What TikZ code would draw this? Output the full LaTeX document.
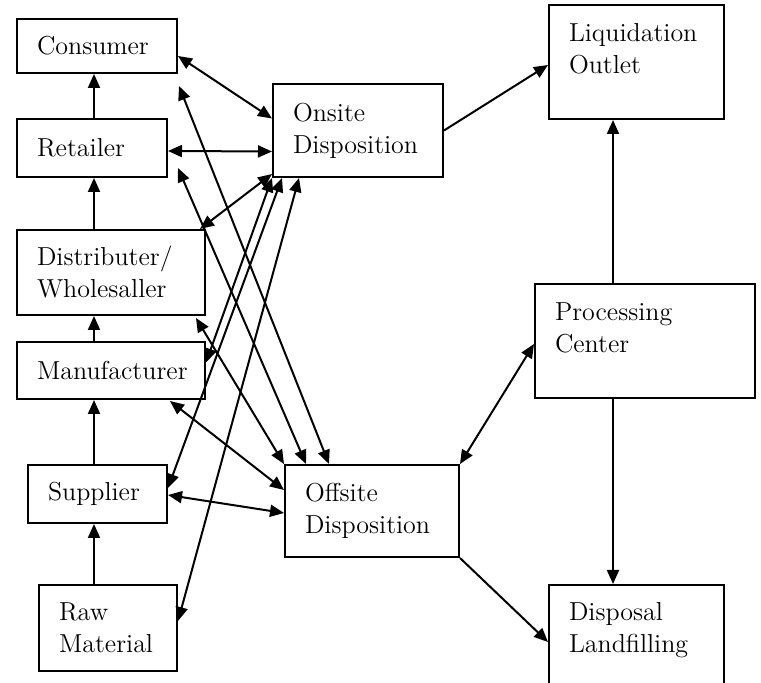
\documentclass[tikz,border=0pt]{standalone}
\usetikzlibrary{arrows.meta,calc}

\begin{document}
\begin{tikzpicture}[x=0.5pt,y=-0.5pt,
  box/.style={draw,line width=1pt,anchor=north west,align=left,inner xsep=10pt,
    font=\fontsize{13}{16}\selectfont},
  oneway/.style={line width=1pt,-{Triangle[length=7pt,width=6pt]}},
  twoway/.style={line width=1pt,{Triangle[length=7pt,width=6pt]}-{Triangle[length=7pt,width=6pt]}}]
\useasboundingbox (0,0) rectangle (761,683);

\node[box,text width=60pt,minimum height=27pt] (cons) at (16,18) {Consumer};
\node[box,text width=55pt,minimum height=29pt] (ret) at (16,118) {Retailer};
\node[box,text width=74pt,minimum height=42.5pt] (dist) at (16,229) {Distributer/\\Wholesaller};
\node[box,text width=74pt,minimum height=28.5pt] (manu) at (16,341) {Manufacturer};
\node[box,text width=49.5pt,minimum height=29pt] (sup) at (27,464) {Supplier};
\node[box,text width=49pt,minimum height=43pt] (raw) at (38,584) {Raw\\Material};

\node[box,text width=65pt,minimum height=46.5pt] (onsite) at (272,83) {Onsite\\Disposition};
\node[box,text width=67pt,minimum height=46pt] (offsite) at (284,464) {Offsite\\Disposition};

\node[box,text width=67.5pt,minimum height=57pt,text depth=30pt] (liq) at (548,4) {Liquidation\\Outlet};
\node[box,text width=90pt,minimum height=57pt,text depth=29pt] (proc) at (534,283) {Processing\\Center};
\node[box,text width=67.5pt,minimum height=52pt,text depth=26pt] (disp) at (548,584) {Disposal\\Landfilling};

\coordinate (spine) at (94,0);
\coordinate (trunk) at (613,0);

\draw[oneway] (ret.north -| spine) -- (cons.south -| spine);
\draw[oneway] (dist.north -| spine) -- (ret.south -| spine);
\draw[oneway] (manu.north -| spine) -- (dist.south -| spine);
\draw[oneway] (sup.north -| spine) -- (manu.south -| spine);
\draw[oneway] (raw.north -| spine) -- (sup.south -| spine);

\draw[twoway] ($(cons.east)+(0,10)$) -- ($(onsite.west)+(0,-12)$);
\draw[twoway] ($(ret.east)+(0,3)$) -- ($(onsite.west)+(0,21)$);
\draw[twoway] ($(dist.north east)+(-6,0)$) -- ($(onsite.south west)+(0,-4)$);
\draw[twoway] ($(manu.east)+(0,-8)$) -- (onsite.south west);
\draw[twoway] ($(sup.east)+(0,-6)$) -- ($(onsite.south west)+(10,0)$);
\draw[twoway] ($(raw.east)+(0,-7)$) -- ($(onsite.south west)+(27,0)$);

\draw[twoway] ($(cons.south east)+(1,12)$) -- ($(offsite.north west)+(45,0)$);
\draw[twoway] ($(ret.south east)+(10,-10)$) -- ($(offsite.north west)+(22,0)$);
\draw[twoway] ($(dist.south east)+(-10,2)$) -- (offsite.north west);
\draw[twoway] ($(manu.south east)+(-36,1)$) -- ($(offsite.west)+(0,-21)$);
\draw[twoway] ($(sup.east)+(0,1)$) -- ($(offsite.west)+(0,2)$);

\draw[oneway] (onsite.east) -- ($(liq.west)+(0,3)$);
\draw[oneway] (proc.north -| trunk) -- (liq.south -| trunk);
\draw[oneway] (proc.south -| trunk) -- (disp.north -| trunk);
\draw[twoway] (offsite.north east) -- ($(proc.west)+(0,3)$);
\draw[oneway] (offsite.south east) -- ($(disp.west)+(0,5)$);
\end{tikzpicture}
\end{document}
